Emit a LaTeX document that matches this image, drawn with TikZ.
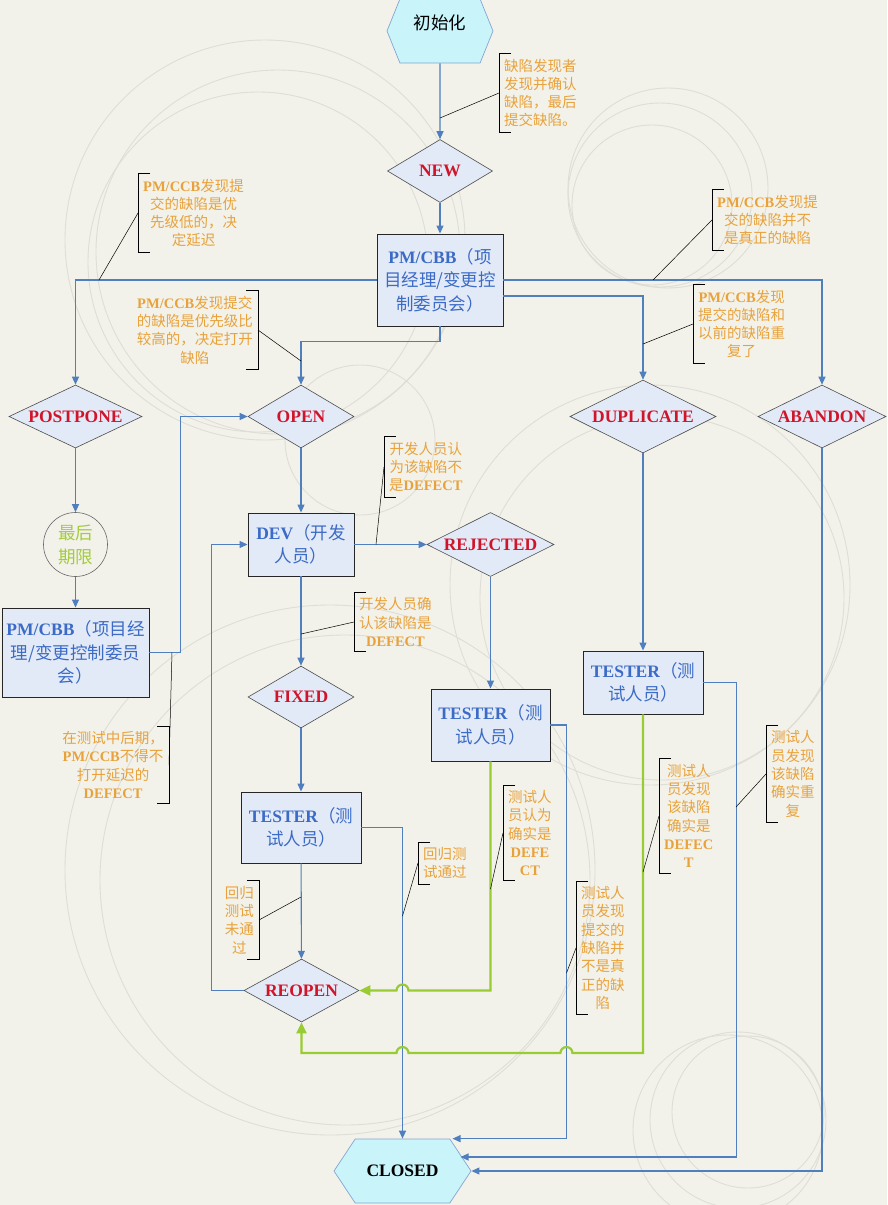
\documentclass[tikz,border=0pt]{standalone}
\usepackage{fontspec}
\setmainfont{Liberation Serif}
\newfontfamily\cjk{Noto Sans CJK SC}
\usetikzlibrary{shapes.geometric,shapes.symbols,arrows.meta}
\definecolor{bgcol}{HTML}{F2F2EA}
\definecolor{ringcol}{HTML}{DEDED6}
\definecolor{flowblue}{HTML}{4F7FBF}
\definecolor{flowgreen}{HTML}{99CC33}
\definecolor{statefill}{HTML}{E3EAF7}
\definecolor{statered}{HTML}{D0152B}
\definecolor{boxblue}{HTML}{3B6BC6}
\definecolor{noteorange}{HTML}{E9A23B}
\definecolor{hexfill}{HTML}{C9F4FA}
\definecolor{deadgreen}{HTML}{A3CC3C}
\newcommand\lat[1]{{\rmfamily\bfseries #1}}

\begin{document}
\begin{tikzpicture}[x=1pt,y=-1pt,
    state/.style={diamond,aspect=2,draw=black!70,line width=.6pt,fill=statefill,text=statered,
      font=\rmfamily\bfseries\fontsize{17.5}{20}\selectfont,inner sep=0pt,minimum height=63pt},
    box/.style={rectangle,draw=black!85,line width=.9pt,fill=statefill,text=boxblue,align=center,
      font=\cjk\fontsize{17.5}{23.5}\selectfont,inner sep=0pt},
    hexa/.style={signal,signal to=east and west,draw=flowblue!70,line width=.7pt,fill=hexfill,
      inner sep=0pt,minimum height=64pt,font=\fontsize{17.5}{20}\selectfont},
    note/.style={text=noteorange,align=center,font=\cjk\fontsize{14.5}{18.3}\selectfont,
      inner xsep=5pt,inner ysep=5pt},
    lnote/.style={note,anchor=west},
    rnote/.style={note,anchor=east},
    flow/.style={draw=flowblue,line width=1.1pt,-{Triangle[length=8pt,width=7pt]}},
    back/.style={draw=flowgreen,line width=2.2pt,-{Triangle[length=11pt,width=10pt]}},
    lead/.style={draw=black,line width=.5pt},
    brk/.style={draw=black,line width=1pt},
    ring/.style={draw=ringcol,line width=.9pt}]
\useasboundingbox (0,0) rectangle (887,1205);
\fill[bgcol] (0,0) rectangle (887,1205);
% faint rings in the background
\foreach \cx/\cy/\r in {265/240/200,278/252/182,258/262/170,660/195/92,652/205/80,668/188/100,
  650/585/200,662/598/182,330/870/265,345/880/245,738/1120/88,748/1112/76,728/1130/95,360/440/75}
  \draw[ring] (\cx,\cy) circle[radius=\r pt];

% states and roles
\node[hexa,signal pointer angle=136,minimum width=106pt,text depth=16pt,text height=12pt] (init) at (440,31) {\cjk 初始化};
\node[state,minimum width=105pt] (new) at (440,171) {NEW};
\node[box,minimum width=126pt,minimum height=92pt] (pm) at (440,280)
  {\lat{PM/CBB}（项\\目经理/变更控\\制委员会）};
\node[state,minimum width=133pt] (postpone) at (75.5,416.5) {POSTPONE};
\node[state,minimum width=106pt] (open) at (301,416.5) {OPEN};
\node[state,minimum width=146pt,minimum height=73pt] (dup) at (643,416.5) {DUPLICATE};
\node[state,minimum width=128pt] (abandon) at (822,416.5) {ABANDON};
\node[circle,draw=black!60,line width=.6pt,minimum size=64pt,inner sep=0pt,text=deadgreen,align=center,
  font=\cjk\fontsize{17.5}{24}\selectfont] (deadline) at (75.5,544.5) {最后\\期限};
\node[box,minimum width=147pt,minimum height=89pt] (pmleft) at (75.5,652.5)
  {\lat{PM/CBB}（项目经\\理/变更控制委员\\会）};
\node[box,minimum width=106pt,minimum height=63pt] (dev) at (301,544.5) {\lat{DEV}（开发\\人员）};
\node[state,minimum width=127pt,minimum height=64pt] (rejected) at (490.5,544.5) {REJECTED};
\node[state,minimum width=106pt,minimum height=62pt] (fixed) at (301,697) {FIXED};
\node[box,minimum width=119pt,minimum height=72pt] (testa) at (490.5,725) {\lat{TESTER}（测\\试人员）};
\node[box,minimum width=120pt,minimum height=63pt] (testb) at (643,682.5) {\lat{TESTER}（测\\试人员）};
\node[box,minimum width=120pt,minimum height=71pt] (testc) at (301,827.5) {\lat{TESTER}（测\\试人员）};
\node[state,minimum width=115pt] (reopen) at (301.5,990.5) {REOPEN};
\node[hexa,signal pointer angle=113,minimum width=137pt,font=\rmfamily\bfseries\fontsize{17.5}{20}\selectfont] (closed) at (402.5,1171) {CLOSED};

% blue transitions
\draw[flow] (init) -- (new);
\draw[flow] (new) -- (pm);
\draw[flow] (pm.west) -| (postpone.north);
\draw[flow] (pm.south) -- ++(0,15) -| (open.north);
\draw[flow] (pm.east) -| (abandon.north);
\draw[flow] ([yshift=-16pt]pm.east) -| (dup.north);
\draw[flow] (postpone) -- (deadline);
\draw[flow] (deadline) -- (pmleft);
\draw[flow] (pmleft.east) -- ++(31,0) |- (open.west);
\draw[flow] (open) -- (dev);
\draw[flow] (dev) -- (rejected);
\draw[flow] (dev) -- (fixed);
\draw[flow] (fixed) -- (testc);
\draw[flow] (testc) -- (reopen);
\draw[flow] (reopen.west) -- ++(-32,0) |- (dev.west);
\draw[flow] (rejected) -- (testa);
\draw[flow] (dup) -- (testb);
\draw[flow] (testc.east) -| (closed.north);
\draw[flow] (testa.east) -- ++(16,0) |- ([xshift=50pt]closed.north);
\draw[flow] (testb.east) -- ++(33,0) |- ([shift={(58pt,14pt)}]closed.center);
\draw[flow] (abandon.south) |- (closed.east);

% green transitions back to REOPEN, hopping over blue lines
\coordinate (low) at (0,1053);
\coordinate (hop1) at (closed.north |- reopen.east);
\coordinate (hop2) at (closed.north |- low);
\coordinate (hop3) at ([xshift=16pt]testa.east |- low);
\draw[back] (testa.south) |- ([xshift=6pt]hop1) arc[start angle=0,end angle=180,radius=6pt] -- (reopen.east);
\draw[back] (testb.south) |- ([xshift=6pt]hop3) arc[start angle=0,end angle=180,radius=6pt]
  -- ([xshift=6pt]hop2) arc[start angle=0,end angle=180,radius=6pt] -| (reopen.south);

% notes
\node[lnote] (nA) at (499,93) {缺陷发现者\\发现并确认\\缺陷，最后\\提交缺陷。};
\node[lnote] (nB) at (138,213) {\lat{PM/CCB}发现提\\交的缺陷是优\\先级低的，决\\定延迟};
\node[rnote] (nC) at (258,330) {\lat{PM/CCB}发现提交\\的缺陷是优先级比\\较高的，决定打开\\缺陷};
\node[lnote] (nD) at (712,220) {\lat{PM/CCB}发现提\\交的缺陷并不\\是真正的缺陷};
\node[lnote] (nE) at (693,324) {\lat{PM/CCB}发现\\提交的缺陷和\\以前的缺陷重\\复了};
\node[lnote] (nF) at (384,467) {开发人员认\\为该缺陷不\\是\lat{DEFECT}};
\node[lnote] (nG) at (354,622) {开发人员确\\认该缺陷是\\\lat{DEFECT}};
\node[rnote] (nH) at (169,765) {在测试中后期，\\\lat{PM/CCB}不得不\\打开延迟的\\\lat{DEFECT}};
\node[rnote] (nI) at (259,920) {回归\\测试\\未通\\过};
\node[lnote] (nJ) at (418,863) {回归测\\试通过};
\node[lnote] (nK) at (503,833) {测试人\\员认为\\确实是\\\lat{DEFE}\\\lat{CT}};
\node[lnote] (nL) at (576,948) {测试人\\员发现\\提交的\\缺陷并\\不是真\\正的缺\\陷};
\node[lnote] (nM) at (659,816) {测试人\\员发现\\该缺陷\\确实是\\\lat{DEFEC}\\\lat{T}};
\node[lnote] (nN) at (766,774) {测试人\\员发现\\该缺陷\\确实重\\复};

\foreach \n in {nA,nB,nD,nE,nF,nG,nJ,nK,nL,nM,nN}
  \draw[brk] ([xshift=12pt]\n.north west) -- (\n.north west) -- (\n.south west) -- ([xshift=12pt]\n.south west);
\foreach \n in {nC,nH,nI}
  \draw[brk] ([xshift=-12pt]\n.north east) -- (\n.north east) -- (\n.south east) -- ([xshift=-12pt]\n.south east);

% leader lines from the notes to their transitions
\coordinate (pA) at (440,118);
\coordinate (pB) at (99,280);
\coordinate (pC) at (301,361);
\coordinate (pD) at (653,280);
\coordinate (pE) at (643,344);
\coordinate (pF) at (376,544.5);
\coordinate (pG) at (301,634);
\coordinate (pH) at (172,652.5);
\coordinate (pI) at (301,897);
\coordinate (pJ) at (402.5,916);
\coordinate (pK) at (490.5,889);
\coordinate (pL) at (566.5,973);
\coordinate (pM) at (643,872);
\coordinate (pN) at (736,807);
\foreach \n/\p/\s in {nA/pA/west,nB/pB/west,nC/pC/east,nD/pD/west,nE/pE/west,nF/pF/west,nG/pG/west,
  nH/pH/east,nI/pI/east,nJ/pJ/west,nK/pK/west,nL/pL/west,nM/pM/west,nN/pN/west}
  \draw[lead] (\n.\s) -- (\p);
\end{tikzpicture}
\end{document}
